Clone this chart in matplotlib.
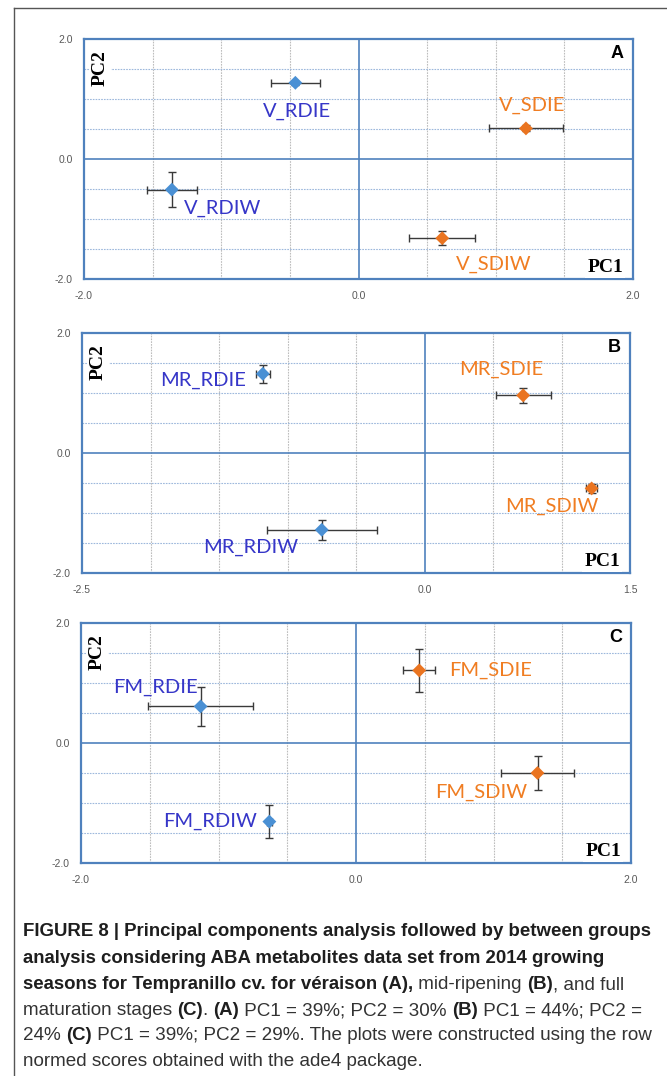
import numpy as np
import matplotlib
matplotlib.use("Agg")
import matplotlib.pyplot as plt
from matplotlib.lines import Line2D

# ---------------- data ----------------
a_names = ["V_RDIE", "V_RDIW", "V_SDIE", "V_SDIW"]
a_pc1 = [-0.46, -1.36, 1.22, 0.61]
a_pc2 = [1.27, -0.51, 0.51, -1.32]
a_pc1_err = [0.18, 0.18, 0.27, 0.24]
a_pc2_err = [0.03, 0.29, 0.05, 0.12]

b_names = ["MR_RDIE", "MR_RDIW", "MR_SDIE", "MR_SDIW"]
b_pc1 = [-1.18, -0.75, 0.72, 1.22]
b_pc2 = [1.32, -1.28, 0.96, -0.59]
b_pc1_err = [0.05, 0.40, 0.20, 0.04]
b_pc2_err = [0.15, 0.17, 0.12, 0.08]

c_names = ["FM_RDIE", "FM_RDIW", "FM_SDIE", "FM_SDIW"]
c_pc1 = [-1.13, -0.63, 0.46, 1.32]
c_pc2 = [0.61, -1.31, 1.21, -0.50]
c_pc1_err = [0.38, 0.02, 0.115, 0.265]
c_pc2_err = [0.33, 0.28, 0.36, 0.29]

a_xlim = [-2.0, 2.0]
b_xlim = [-2.5, 1.5]
c_xlim = [-2.0, 2.0]
ylim = [-2.0, 2.0]
a_xticks = [-2.0, 0.0, 2.0]
b_xticks = [-2.5, 0.0, 1.5]
c_xticks = [-2.0, 0.0, 2.0]
yticks = [-2.0, 0.0, 2.0]
panel_letters = ["A", "B", "C"]

# label placement (pixels: dx, dy up, alignment) - style only
a_lab = [(2, -29, "center"), (12, -19, "left"), (6, 23, "center"), (52, -26, "center")]
b_lab = [(-17, -7, "right"), (-71, -18, "center"), (-22, 26, "center"), (-40, -18, "center")]
c_lab = [(-45, 19, "center"), (-12, 0, "right"), (30, 0, "left"), (-56, -19, "center")]

# ---------------- style ----------------
W, H = 667, 1076
fig = plt.figure(figsize=(W / 100, H / 100), dpi=100)
fig.patch.set_facecolor("white")

BLUE_MK = "#4A90D4"
ORANGE_MK = "#EA7420"
BLUE_TX = "#3636C8"
ORANGE_TX = "#F07D22"
FRAME = "#4F81BD"
TICKC = "#595959"
LABFONT = ["Lato", "DejaVu Sans"]

# panel rectangles in pixels: left, top, right, bottom
rects = [(84, 39, 633, 279), (82, 333, 630, 573), (81, 623, 631, 863)]

panels = [
    (a_names, a_pc1, a_pc2, a_pc1_err, a_pc2_err, a_xlim, a_xticks, a_lab),
    (b_names, b_pc1, b_pc2, b_pc1_err, b_pc2_err, b_xlim, b_xticks, b_lab),
    (c_names, c_pc1, c_pc2, c_pc1_err, c_pc2_err, c_xlim, c_xticks, c_lab),
]

for k, (names, x, y, xe, ye, xlim, xticks, labs) in enumerate(panels):
    l, t, r, b = rects[k]
    ax = fig.add_axes([l / W, 1 - b / H, (r - l) / W, (b - t) / H])
    ax.set_xlim(xlim)
    ax.set_ylim(ylim)
    ax.set_xticks(xticks)
    ax.set_yticks(yticks)
    ax.set_xticklabels([f"{v:.1f}" for v in xticks])
    ax.set_yticklabels([f"{v:.1f}" for v in yticks])
    ax.set_xticks(np.arange(xlim[0], xlim[1] + 1e-6, 0.5), minor=True)
    ax.set_yticks(np.arange(ylim[0], ylim[1] + 1e-6, 0.5), minor=True)
    ax.tick_params(which="both", length=0)
    ax.tick_params(axis="x", pad=8.5, labelsize=7.5, labelcolor=TICKC)
    ax.tick_params(axis="y", pad=8, labelsize=7.5, labelcolor=TICKC)
    for lab in ax.get_xticklabels() + ax.get_yticklabels():
        lab.set_family("Liberation Sans")
    ax.xaxis.grid(True, which="minor", color="#BDBDBD", lw=0.8, ls=(0, (1.5, 1)))
    ax.yaxis.grid(True, which="minor", color="#9DB8DC", lw=0.8, ls=(0, (1.5, 1)))
    ax.set_axisbelow(True)
    ax.axhline(0, color=FRAME, lw=1.2, zorder=1)
    ax.axvline(0, color=FRAME, lw=1.2, zorder=1)
    for sp in ax.spines.values():
        sp.set_color(FRAME)
        sp.set_linewidth(1.6)

    cols_mk = [BLUE_MK if "RDI" in n else ORANGE_MK for n in names]
    cols_tx = [BLUE_TX if "RDI" in n else ORANGE_TX for n in names]
    ax.errorbar(x, y, xerr=xe, yerr=ye, fmt="none", ecolor="#3A3A3A",
                elinewidth=1.0, capsize=2.6, capthick=1.0, zorder=3)
    ax.scatter(x, y, marker="D", s=50, c=cols_mk, edgecolors="none", zorder=4)
    for i, n in enumerate(names):
        dx, dy, ha = labs[i]
        ax.annotate(n, (x[i], y[i]), xytext=(dx, dy), textcoords="offset pixels",
                    ha=ha, va="center", color=cols_tx[i], fontsize=14.5,
                    family=LABFONT, zorder=5)

    ax.text(16 / (r - l), 1 - 11 / (b - t), "PC2", transform=ax.transAxes,
            rotation=90, ha="center", va="top", fontsize=14, fontweight="bold",
            family=["Liberation Serif", "DejaVu Serif"], color="black", zorder=6,
            bbox=dict(facecolor="white", edgecolor="none", pad=1.5))
    ax.text(1 - 10 / (r - l), 7 / (b - t), "PC1", transform=ax.transAxes,
            ha="right", va="baseline", fontsize=14, fontweight="bold",
            family=["Liberation Serif", "DejaVu Serif"], color="black", zorder=6,
            bbox=dict(facecolor="white", edgecolor="none", pad=1.5))
    ax.text(1 - 9 / (r - l), 1 - 14 / (b - t), panel_letters[k], transform=ax.transAxes,
            ha="right", va="center", fontsize=13, fontweight="bold",
            family=["Liberation Sans", "DejaVu Sans"], color="black", zorder=6)

# ---------------- frame lines ----------------
fig.add_artist(Line2D([14 / W, 14 / W], [0, 1 - 8 / H], color="#555555", lw=1.0))
fig.add_artist(Line2D([14 / W, 1], [1 - 8 / H, 1 - 8 / H], color="#555555", lw=1.0))

# ---------------- caption ----------------
cap_lines = [
    [("FIGURE 8 | Principal components analysis followed by between groups", True)],
    [("analysis considering ABA metabolites data set from 2014 growing", True)],
    [("seasons for Tempranillo cv. for véraison (A),", True), (" mid-ripening ", False),
     ("(B)", True), (", and full", False)],
    [("maturation stages ", False), ("(C)", True), (". ", False), ("(A)", True),
     (" PC1 = 39%; PC2 = 30% ", False), ("(B)", True), (" PC1 = 44%; PC2 =", False)],
    [("24% ", False), ("(C)", True), (" PC1 = 39%; PC2 = 29%. The plots were constructed using the row", False)],
    [("normed scores obtained with the ade4 package.", False)],
]
cap_y = [936, 963, 989, 1015, 1040, 1066]
cap_x0 = 23
cap_target_w = 631
CAPFONT = ["Liberation Sans", "DejaVu Sans"]

fig.canvas.draw()
renderer = fig.canvas.get_renderer()


def width_of(s, fs, bold):
    t = fig.text(0, 0, s, fontsize=fs, fontweight="bold" if bold else "normal", family=CAPFONT)
    w = t.get_window_extent(renderer).width
    t.remove()
    return w


bold_fs = 10 * cap_target_w / width_of(cap_lines[0][0][0], 10, True)
# regular size fitted so the mostly-regular 5th line spans the same width
w_bold_part = width_of("(C)", bold_fs, True)
w_reg_part = width_of("24% ", 10, False) + width_of(cap_lines[4][2][0], 10, False)
reg_fs = 10 * (cap_target_w - w_bold_part) / w_reg_part

for line, yy in zip(cap_lines, cap_y):
    xcur = cap_x0
    for s, bold in line:
        fs = bold_fs if bold else reg_fs
        t = fig.text(xcur / W, 1 - yy / H, s, fontsize=fs,
                     fontweight="bold" if bold else "normal", family=CAPFONT,
                     color="#1E1E1E" if bold else "#333333",
                     va="baseline", ha="left")
        xcur += t.get_window_extent(renderer).width

fig.savefig("out.png", dpi=100, facecolor="white")
